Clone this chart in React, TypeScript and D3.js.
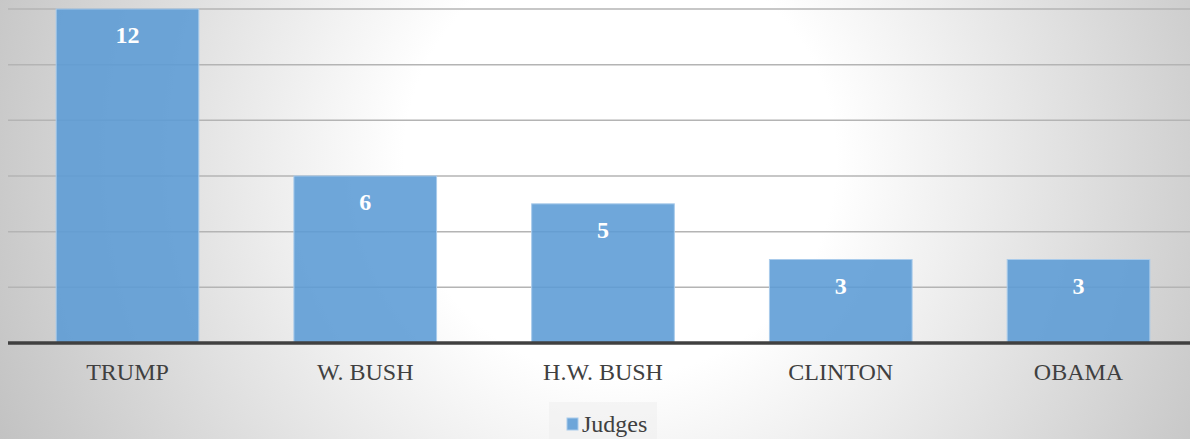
import React from "react";
import * as d3 from "d3";

const categories = ["TRUMP", "W. BUSH", "H.W. BUSH", "CLINTON", "OBAMA"];
const judges = [12, 6, 5, 3, 3];
const yTicks = [0, 2, 4, 6, 8, 10, 12];
const seriesName = "Judges";

const W = 1190;
const H = 439;
const FONT = "'Liberation Serif', 'Times New Roman', serif";

export default function App() {
  const x = d3
    .scaleBand<string>()
    .domain(categories)
    .range([8.6, 1197.4])
    .paddingInner(0.4)
    .paddingOuter(0.2);
  const y = d3.scaleLinear().domain([0, 12]).range([343, 9]);

  return (
    <svg
      width={W}
      height={H}
      style={{ position: "absolute", left: 0, top: 0, display: "block" }}
    >
      <defs>
        <radialGradient
          id="bg"
          gradientUnits="userSpaceOnUse"
          cx={620}
          cy={160}
          r={720}
        >
          <stop offset="0" stopColor="#ffffff" />
          <stop offset="0.3" stopColor="#ffffff" />
          <stop offset="1" stopColor="#bdbdbd" />
        </radialGradient>
      </defs>
      <rect x={0} y={0} width={W} height={H} fill="url(#bg)" />
      {yTicks
        .filter((t) => t > 0)
        .map((t) => (
          <line
            key={t}
            x1={8}
            x2={W}
            y1={y(t)}
            y2={y(t)}
            stroke="#b4b4b4"
            strokeWidth={1.5}
          />
        ))}
      {categories.map((c, i) => {
        const bx = x(c) as number;
        const top = y(judges[i]);
        return (
          <g key={c}>
            <rect
              x={bx}
              y={top}
              width={x.bandwidth()}
              height={y(0) - top}
              fill="#5b9bd5"
              fillOpacity={0.88}
              stroke="#a9cbeb"
              strokeWidth={1}
            />
            <text
              x={bx + x.bandwidth() / 2}
              y={top + 34}
              textAnchor="middle"
              fontFamily={FONT}
              fontWeight="bold"
              fontSize={24}
              fill="#ffffff"
            >
              {judges[i]}
            </text>
            <text
              x={bx + x.bandwidth() / 2}
              y={380}
              textAnchor="middle"
              fontFamily={FONT}
              fontSize={24}
              fill="#404040"
            >
              {c}
            </text>
          </g>
        );
      })}
      <line
        x1={8}
        x2={W}
        y1={y(0)}
        y2={y(0)}
        stroke="#404040"
        strokeWidth={3.5}
      />
      <g>
        <rect x={549} y={402} width={108} height={40} fill="#eeeeee" fillOpacity={0.55} />
        <rect x={567} y={418} width={11} height={12} fill="#5b9bd5" fillOpacity={0.88} stroke="#a9cbeb" strokeWidth={1} />
        <text x={582} y={432} fontFamily={FONT} fontSize={24} fill="#404040">
          {seriesName}
        </text>
      </g>
    </svg>
  );
}
